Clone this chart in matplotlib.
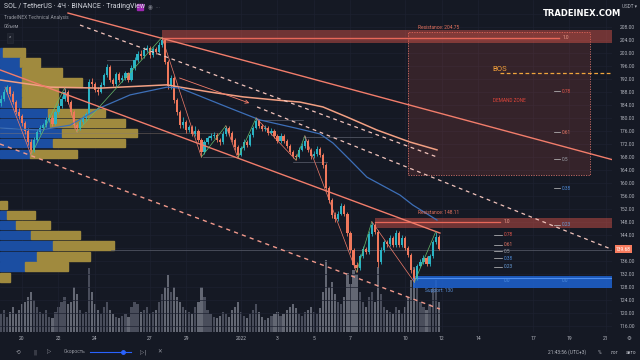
import numpy as np
import matplotlib.pyplot as plt
from matplotlib.patches import Rectangle
from matplotlib.transforms import blended_transform_factory

plt.rcParams['font.family'] = ['Roboto', 'DejaVu Sans']

BG = '#151924'
GRID = '#1d2130'
TXT = '#b2b5be'
UP = '#2ab3c4'
DOWN = '#f0785c'
SALMON = '#f27d6b'
GREEN = '#66bb6a'

# SOL/USDT 4H candles, x = days from 20 Dec 2021 00:00
first_day = -7 / 6
first_open = 184.5
closes = [
    186.0, 188.0, 189.5, 187.5, 185.0, 182.0,
    180.5, 178.5, 176.0, 172.5, 170.2, 173.2,
    175.7, 176.9, 177.8, 179.4, 180.0, 178.2,
    181.8, 183.7, 185.8, 188.0, 184.9, 181.8,
    177.8, 176.9, 178.8, 180.0, 181.2, 191.1,
    190.5, 188.6, 188.0, 190.2, 193.2, 195.7,
    191.7, 190.5, 193.5, 191.7, 192.3, 193.8,
    191.7, 195.4, 197.8, 199.7, 199.1, 200.9,
    201.5, 199.4, 201.2, 200.3, 202.5, 204.0,
    197.2, 189.8, 192.3, 185.5, 181.8, 177.8,
    178.8, 176.3, 177.2, 175.1, 176.0, 173.2,
    169.5, 172.6, 173.8, 174.5, 174.8, 173.2,
    172.6, 175.1, 176.9, 175.4, 173.2, 171.1,
    168.6, 170.8, 172.6, 171.7, 174.8, 176.9,
    179.1, 177.5, 176.6, 176.9, 175.4, 176.0,
    174.5, 172.9, 174.5, 172.9, 171.4, 169.5,
    168.3, 168.0, 170.2, 171.4, 172.9, 170.2,
    168.3, 168.9, 170.5, 168.6, 165.5, 158.5,
    154.8, 150.2, 148.9, 150.5, 152.9, 150.5,
    144.6, 139.4, 134.8, 133.8, 137.5, 139.7,
    138.8, 144.3, 147.1, 144.9, 135.7, 139.4,
    141.8, 141.2, 143.1, 140.9, 144.6, 140.9,
    143.1, 140.0, 137.8, 133.2, 130.8, 134.5,
    135.7, 136.9, 135.1, 137.5, 141.8, 143.4,
    139.68,
]
highs = [
    187.0, 188.8, 190.3, 190.0, 188.2, 185.6,
    183.0, 181.2, 179.2, 176.8, 173.4, 174.0,
    176.5, 177.8, 178.6, 180.3, 181.2, 180.8,
    182.6, 184.5, 186.8, 189.2, 188.6, 185.5,
    182.4, 178.6, 179.6, 180.9, 182.0, 192.0,
    192.4, 191.2, 189.4, 191.0, 194.0, 196.6,
    196.2, 192.4, 194.3, 194.1, 193.2, 194.6,
    194.3, 196.2, 198.7, 200.6, 200.8, 201.8,
    202.6, 202.1, 202.0, 202.0, 203.4, 204.8,
    204.4, 197.8, 193.1, 192.8, 186.2, 182.5,
    180.2, 179.4, 178.0, 177.9, 177.5, 176.6,
    173.8, 173.3, 174.6, 175.4, 175.7, 175.3,
    173.9, 175.9, 177.6, 177.4, 175.9, 173.8,
    171.6, 171.5, 173.4, 173.3, 175.5, 177.6,
    180.0, 179.7, 178.2, 177.8, 177.5, 176.9,
    176.6, 175.1, 175.3, 175.0, 173.5, 172.0,
    170.1, 169.0, 171.0, 172.2, 174.5, 173.5,
    170.8, 169.8, 171.3, 171.1, 169.2, 166.1,
    159.2, 155.5, 151.0, 151.4, 153.8, 153.5,
    151.1, 145.3, 140.0, 135.6, 138.3, 140.6,
    140.4, 145.1, 148.1, 147.6, 145.5, 140.2,
    142.6, 142.5, 144.0, 143.7, 145.5, 145.1,
    143.9, 143.6, 140.6, 138.4, 133.8, 135.2,
    136.5, 137.7, 137.5, 138.3, 142.6, 145.0,
    144.0,
]
lows = [
    183.8, 185.2, 187.3, 186.8, 184.3, 181.2,
    179.6, 177.6, 175.0, 171.6, 168.6, 169.6,
    172.6, 175.0, 176.2, 177.2, 178.8, 177.5,
    177.9, 181.2, 183.2, 185.3, 184.2, 181.0,
    177.0, 175.7, 176.4, 178.2, 179.4, 180.8,
    189.6, 187.9, 187.1, 187.6, 189.8, 192.7,
    191.0, 189.8, 190.0, 191.0, 191.1, 191.8,
    191.0, 191.3, 194.9, 197.2, 198.3, 198.6,
    200.2, 198.6, 198.9, 199.6, 199.9, 201.8,
    196.5, 189.0, 188.9, 184.6, 180.9, 176.8,
    177.0, 175.5, 175.6, 174.5, 174.6, 172.5,
    168.0, 169.0, 172.0, 173.2, 173.9, 172.5,
    171.8, 172.1, 174.6, 174.8, 172.6, 170.3,
    167.7, 168.2, 170.3, 171.0, 171.3, 174.3,
    176.5, 176.9, 175.9, 176.0, 174.8, 174.9,
    173.8, 172.2, 172.4, 172.2, 170.7, 168.8,
    167.6, 167.1, 167.6, 169.7, 170.9, 169.5,
    167.5, 167.8, 168.4, 167.9, 164.6, 157.6,
    153.9, 149.3, 148.0, 148.4, 150.0, 149.8,
    143.8, 138.5, 133.9, 132.6, 133.2, 137.0,
    138.0, 138.3, 143.8, 144.2, 134.2, 135.2,
    138.9, 140.4, 140.7, 140.2, 140.4, 140.2,
    140.4, 139.3, 137.1, 132.4, 129.5, 130.3,
    134.0, 135.2, 134.4, 134.6, 137.0, 141.3,
    139.3,
]
volume = [
    18, 22, 15, 20, 25, 18, 22, 28, 30, 35, 40,
    32, 25, 20, 18, 22, 15, 14, 20, 25, 30,
    35, 28, 30, 45, 38, 22, 18, 20,
    64,
    40, 28, 22, 18, 25, 30, 22, 18, 15, 14, 16,
    18, 15, 25, 30, 28, 20, 22, 25, 18, 20, 22, 30,
    38, 45, 57, 40, 45, 35, 30, 25,
    22, 20, 18, 25, 30, 45, 35, 22, 18, 15,
    14, 16, 20, 18, 15, 22, 25, 30, 20, 16, 14, 18, 22, 28,
    20, 15, 12, 14, 16, 18, 20, 16, 18, 22, 25, 28, 24, 18, 16, 20,
    22, 25, 20, 18, 24, 40, 72, 45, 50, 38,
    30, 28, 35, 59, 48, 62, 58, 40, 30, 25,
    35, 40, 30, 65, 38, 25, 22, 20, 18, 25,
    22, 18, 25, 35, 52, 65, 45, 30, 25, 22, 28, 45, 52, 30,
]

# volume profiles (row price, buy volume, sell volume)
upper_rows = [200.2, 197.1, 194.0, 190.9, 187.8, 184.8, 181.5, 178.5, 175.4, 172.3, 168.9]
upper_buy = [3, 20, 22, 22, 22, 22, 48, 50, 62, 53, 30]
upper_sell = [22, 20, 40, 60, 36, 36, 57, 75, 75, 72, 47]
lower_rows = [153.2, 150.2, 147.1, 144.0, 140.8, 137.4, 134.3, 130.9]
lower_buy = [0, 7, 16, 31, 53, 37, 25, 0]
lower_sell = [7, 28, 34, 49, 61, 53, 43, 10]

# moving averages
ma_slow_day = [-1.205, 1.534, 4.274, 7.945, 8.658, 10.30, 12.11, 13.97, 15.23, 16.49, 17.81, 19.45, 21.26, 22.74]
ma_slow = [191.7, 189.5, 189.2, 190.2, 189.5, 188.0, 186.5, 185.5, 184.9, 183.4, 180.3, 176.3, 172.6, 170.2]
ma_fast_day = [-1.205, 0.986, 2.63, 4.27, 5.92, 7.95, 8.66, 11.23, 13.04, 15.23, 16.33, 17.04, 17.97, 18.90, 20.71, 21.42, 22.74]
ma_fast = [176.9, 176.3, 177.8, 183.1, 187.1, 189.5, 189.2, 183.4, 179.4, 176.6, 175.1, 172.3, 167.1, 161.8, 156.3, 153.2, 148.6]

# drawings
line_top = ([2.52, 32.4], [212.3, 167.1])
line_mid = ([-1.205, 22.9], [194.8, 144.6])
line_low = ([-1.205, 22.9], [172.0, 121.2])
dash_1 = ([3.18, 22.74], [208.6, 168.0])
dash_2 = ([12.88, 32.4], [183.4, 139.4])
arrow_line = ([8.49, 12.6], [192.6, 184.3])
pivot_day = [-0.93, 0.50, 2.33, 3.00, 7.67, 9.83, 11.17, 11.83, 12.83, 15.00, 15.50, 18.33, 19.17, 21.50, 22.67]
pivot_price = [189.5, 168.6, 189.2, 175.7, 204.8, 168.0, 177.6, 167.7, 180.0, 167.1, 174.5, 132.6, 148.1, 129.5, 145.0]
box_lines = [(4.66, 6.30, 197.8), (12.88, 15.40, 179.4), (15.40, 19.18, 174.2),
             (9.92, 11.78, 168.0), (14.85, 16.71, 166.5)]

res_top = 204.75
res_low = 148.11
support = 130.0
bos = 193.8
fib_levels = [1.0, 0.78, 0.61, 0.5, 0.38, 0.23, 0.0]
fib_colors = ['#f0a090', '#e8584c', '#ec7a68', '#a0a3ab', '#4f8fe0', '#6a9fdc', '#4f8fe0']

tick_days = [0, 2, 4, 7, 9, 12, 14, 16, 18, 21, 23, 25, 28, 30, 32]
tick_labels = ['20', '22', '24', '27', '29', '2022', '3', '5', '7', '10', '12', '14', '17', '19', '21']
price_ticks = np.arange(116, 213, 4)
hidden_ticks = [140, 212]   # covered by the last-price tag and the watermark

days = first_day + np.arange(len(closes)) / 6
opens = np.array([first_open] + closes[:-1])
c = np.array(closes)
rising = c >= opens

fig = plt.figure(figsize=(6.4, 3.6), dpi=100, facecolor=BG)
ax = fig.add_axes([0, 28 / 360, 612 / 640, 332 / 360])
vax = ax.twinx()
vax.set_axis_off()
ax.set_zorder(vax.get_zorder() + 1)
ax.patch.set_visible(False)
ax.yaxis.tick_right()

vax.bar(days, volume, width=0.12, color=np.where(rising, '#4f5362', '#6c707c'), alpha=0.9)
vax.set_ylim(0, max(volume) * 4.6)

trans = blended_transform_factory(ax.transAxes, ax.transData)
prof_scale = 1 / 612
for rows, buy, sell in [(upper_rows, upper_buy, upper_sell), (lower_rows, lower_buy, lower_sell)]:
    for p, b, s in zip(rows, buy, sell):
        ax.add_patch(Rectangle((0, p - 1.3), b * prof_scale, 2.6, transform=trans,
                               color='#1b4ea2', zorder=2))
        ax.add_patch(Rectangle((b * prof_scale, p - 1.3), s * prof_scale, 2.6, transform=trans,
                               color='#a08a3e', zorder=2))
ax.plot([-1.205, 11.0], [175.4, 175.4], color='#8a7a70', lw=0.5, alpha=0.6, zorder=2)
ax.plot([4.9, 32.4], [139.5, 139.5], color='#5a5e6c', lw=0.5, zorder=2)

# zones
ax.add_patch(Rectangle((21.15, 162.5), 9.95, 44.0, facecolor='#e05a4c', alpha=0.16, lw=0, zorder=1))
ax.add_patch(Rectangle((21.15, 162.5), 9.95, 44.0, fill=False, edgecolor='#d87068', lw=0.6,
                       ls=(0, (1.5, 1.5)), zorder=1))
ax.add_patch(Rectangle((7.67, 203.2), 26, 3.9, facecolor='#e0574a', alpha=0.45, lw=0, zorder=1))
ax.plot([7.67, 29.45], [res_top, res_top], color='#e8685a', lw=1.0, zorder=1)
ax.add_patch(Rectangle((19.34, 146.3), 14, 3.0, facecolor='#e0574a', alpha=0.45, lw=0, zorder=1))
ax.plot([19.34, 26.2], [res_low, res_low], color='#e8685a', lw=0.9, zorder=1)
ax.add_patch(Rectangle((21.42, 127.6), 12, 3.9, facecolor='#1e63d2', alpha=0.85, lw=0, zorder=1))
ax.plot([21.42, 32.4], [support + 0.8, support + 0.8], color='#4d8ef0', lw=0.8, zorder=1)

# candles
colors = np.where(rising, UP, DOWN)
ax.vlines(days, lows, highs, colors=colors, lw=0.6, zorder=3)
bottoms = np.minimum(opens, c)
heights = np.maximum(np.abs(c - opens), 0.25)
ax.bar(days, heights, bottom=bottoms, width=0.12, color=colors, zorder=3)

# indicators and drawings
ax.plot(ma_slow_day, ma_slow, color='#f3a083', lw=1.1, zorder=4)
ax.plot(ma_fast_day, ma_fast, color='#3d6fb8', lw=0.9, zorder=4)
ax.plot(*line_top, color=SALMON, lw=1.0, zorder=4)
ax.plot(*line_mid, color=SALMON, lw=1.0, zorder=4)
ax.plot(*line_low, color='#f29a8c', lw=1.0, ls=(0, (3, 3)), zorder=4)
ax.plot(*dash_1, color='#f2c4bc', lw=0.9, ls=(0, (3, 3)), zorder=4)
ax.plot(*dash_2, color='#f2c4bc', lw=0.9, ls=(0, (3, 3)), zorder=4)
ax.annotate('', xy=(arrow_line[0][1], arrow_line[1][1]), xytext=(arrow_line[0][0], arrow_line[1][0]),
            arrowprops=dict(arrowstyle='->', color=SALMON, lw=0.6, mutation_scale=6), zorder=4)
for i in range(len(pivot_day) - 1):
    col = GREEN if pivot_price[i + 1] > pivot_price[i] else SALMON
    ax.plot(pivot_day[i:i + 2], pivot_price[i:i + 2], color=col, lw=0.5, zorder=4)
for x0, x1, p in box_lines:
    ax.plot([x0, x1], [p, p], color='#5c606e', lw=0.5, zorder=2)

ax.plot([26.2, 32.4], [bos, bos], color='#f0a53c', lw=0.9, ls=(0, (3, 2)), zorder=4)
ax.text(25.75, bos + 1.2, 'BOS', color='#f5a13a', fontsize=5.5, va='center', ha='left', zorder=5)
ax.text(26.7, 185.5, 'DEMAND ZONE', color='#e0453a', fontsize=3.4, ha='center', va='center', zorder=5)
ax.text(21.7, 207.8, 'Resistance: 204.75', color='#e8735f', fontsize=3.5, va='center', zorder=5)
ax.text(21.7, 150.9, 'Resistance: 148.11', color='#e8735f', fontsize=3.5, va='center', zorder=5)
ax.text(22.1, 127.0, 'Support: 130', color='#5b8fd6', fontsize=3.5, va='center', zorder=5)

# fib labels: big range 130 -> 204.75, small range 130 -> 148.11
for lvl, col in zip(fib_levels, fib_colors):
    p_big = support + lvl * (res_top - support)
    p_small = support + lvl * (res_low - support)
    lab = f'{lvl:g}' if lvl not in (1.0, 0.0) else f'{lvl:.1f}'
    ax.text(29.6, p_big, lab, color=col, fontsize=3.4, va='center', zorder=5)
    ax.text(26.4, p_small, lab, color=col, fontsize=3.4, va='center', zorder=5)
    if lvl not in (1.0, 0.0):
        ax.plot([29.15, 29.5], [p_big, p_big], color='#c8c8c8', lw=0.5, zorder=5)
        ax.plot([25.85, 26.3], [p_small, p_small], color='#c8c8c8', lw=0.5, zorder=5)

# axes styling
ax.set_xlim(-1.2055, 32.33)
ax.set_ylim(114.15, 216.31)
for sp in ax.spines.values():
    sp.set_visible(False)
ax.set_xticks(tick_days, tick_labels)
ax.set_yticks(price_ticks, ['' if p in hidden_ticks else f'{p:.2f}' for p in price_ticks])
ax.tick_params(axis='y', length=0, labelsize=3.6, labelcolor=TXT, pad=5.5)
ax.tick_params(axis='x', length=0, labelsize=3.6, labelcolor=TXT, pad=3)
ax.grid(color=GRID, lw=0.5)
ax.set_axisbelow(True)

ax.text(1 + 4 / 612, 139.68, '139.68', transform=trans, color='white', fontsize=3.5,
        va='center', ha='left', bbox=dict(boxstyle='square,pad=0.3', fc='#f77c5f', ec='none'), zorder=6)

# header and toolbars
fig.text(4 / 640, 1 - 7 / 360, 'SOL / TetherUS · 4Ч · BINANCE · TradingView', color='#d1d4dc',
         fontsize=5, va='center')
fig.patches.append(Rectangle((137 / 640, 1 - 10 / 360), 6 / 640, 6 / 360, transform=fig.transFigure,
                             color='#9c27b0'))
fig.text(148 / 640, 1 - 7 / 360, '◉  ···', color='#787b86', fontsize=4, va='center')
fig.text(4 / 640, 1 - 17 / 360, 'TradeINEX Technical Analysis', color='#9598a1', fontsize=3.5, va='center')
fig.text(4 / 640, 1 - 27 / 360, 'Объем', color='#9598a1', fontsize=3.5, va='center')
fig.text(10 / 640, 1 - 38 / 360, '^', color='#9598a1', fontsize=4, va='center', ha='center',
         bbox=dict(boxstyle='square,pad=0.4', fc='#1e222d', ec='#2a2e39', lw=0.4))
fig.text(582 / 640, 1 - 14 / 360, 'TRADEINEX.COM', color='white', fontsize=6, fontweight='bold',
         va='center', ha='center', family='DejaVu Sans')
fig.text(622 / 640, 1 - 6 / 360, 'USDT ▾', color=TXT, fontsize=3.3, va='center')
fig.text(629 / 640, 1 - 338 / 360, '⚙', color=TXT, fontsize=4, va='center', ha='center',
         family='DejaVu Sans')

ty = 1 - 352 / 360
for x, s in [(18, '⟲'), (35, '||'), (49, '▷'), (143, '▷|'), (160, '✕')]:
    fig.text(x / 640, ty, s, color='#9598a1', fontsize=4, va='center', ha='center', family='DejaVu Sans')
fig.text(64 / 640, ty, 'Скорость', color='#9598a1', fontsize=3.5, va='center')
fig.add_artist(plt.Line2D([90 / 640, 131 / 640], [ty, ty], color='#2962ff', lw=0.8))
fig.add_artist(plt.Line2D([123 / 640], [ty], marker='o', ms=2.5, color='#2962ff'))
fig.text(586 / 640, ty, '21:43:56 (UTC+3)', color=TXT, fontsize=3.5, va='center', ha='right')
fig.text(600 / 640, ty, '%', color=TXT, fontsize=3.5, va='center', ha='center')
fig.text(615 / 640, ty, 'лог', color=TXT, fontsize=3.5, va='center', ha='center')
fig.text(631 / 640, ty, 'авто', color=TXT, fontsize=3.5, va='center', ha='center')

fig.savefig('out.png', dpi=100, facecolor=BG)
